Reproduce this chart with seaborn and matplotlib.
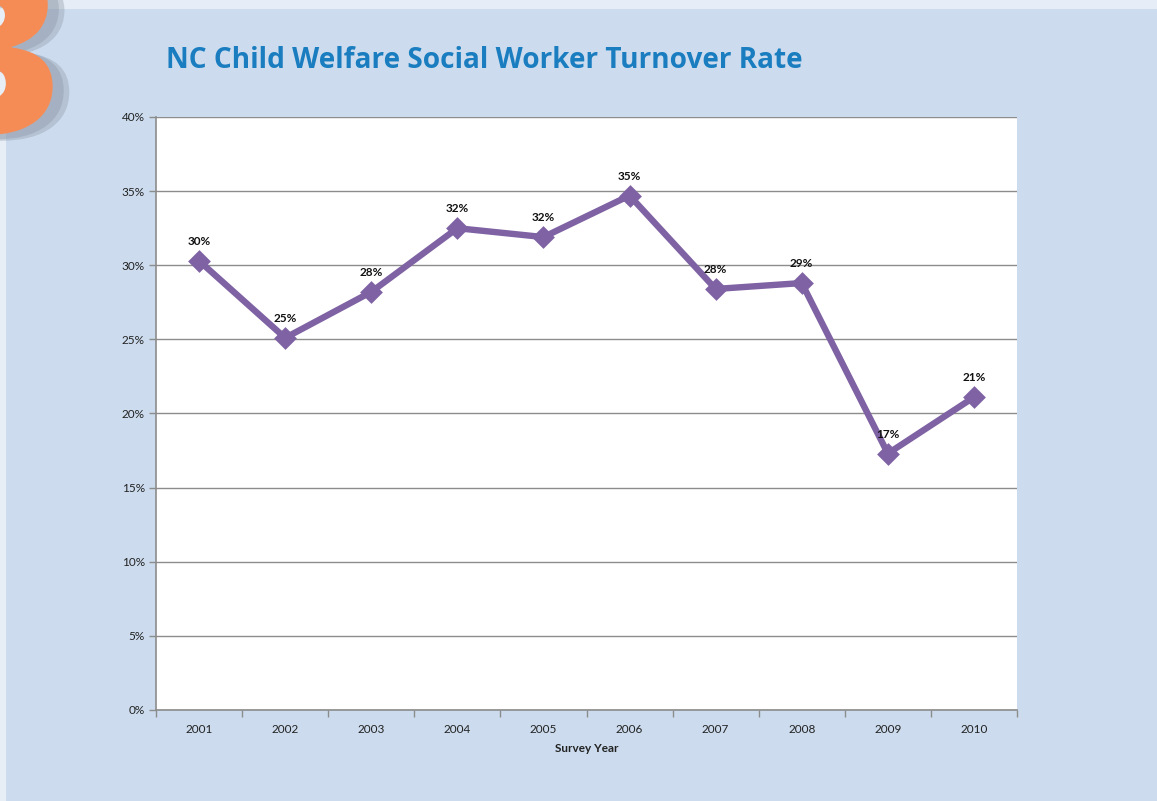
import matplotlib
matplotlib.use("Agg")
import matplotlib.pyplot as plt
import matplotlib.patheffects as pe
import seaborn as sns
import numpy as np
import pandas as pd
from matplotlib.patches import Rectangle
from matplotlib.ticker import FixedLocator

years = ["2001", "2002", "2003", "2004", "2005", "2006", "2007", "2008", "2009", "2010"]
rates = [30.3, 25.1, 28.2, 32.5, 31.9, 34.7, 28.4, 28.8, 17.3, 21.1]
labels = ["30%", "25%", "28%", "32%", "32%", "35%", "28%", "29%", "17%", "21%"]
yticks = [0, 5, 10, 15, 20, 25, 30, 35, 40]
title = "NC Child Welfare Social Worker Turnover Rate"
xlabel = "Survey Year"

sns.set_theme(style="white")
plt.rcParams['font.family'] = ['Lato', 'DejaVu Sans']

BG = "#CCDCEE"
PURPLE = "#7F62A3"
GRID = "#8C8C8C"

fig = plt.figure(figsize=(11.57, 8.01), dpi=100)
fig.patch.set_facecolor(BG)

# top light strip
fig.patches.append(Rectangle((0, 1 - 9/801), 1, 9/801, transform=fig.transFigure,
                             facecolor="#E6EDF6", edgecolor="none", zorder=0))
fig.patches.append(Rectangle((0, 0), 6/1157, 1, transform=fig.transFigure,
                             facecolor="#E8EEF6", edgecolor="none", zorder=0))

# decorative "3" with a soft grey shadow
fig.text(62/1157, 1 - 133/801, "3", fontsize=165, fontweight="heavy", color="#F58C55",
         family=["Open Sans", "DejaVu Sans"], ha="right", va="baseline", zorder=2,
         path_effects=[pe.SimplePatchShadow(offset=(12, -4), shadow_rgbFace="#8994A3", alpha=0.35),
                       pe.SimplePatchShadow(offset=(8, -3), shadow_rgbFace="#8994A3", alpha=0.35),
                       pe.Normal()])

fig.text(166/1157, 1 - 60/801, title, fontsize=20.2, fontweight="bold", color="#1A7DC0",
         family=["Open Sans", "DejaVu Sans"], ha="left", va="center")

ax = fig.add_axes([156/1157, 91/801, 861/1157, 593/801])
ax.set_facecolor("white")

df = pd.DataFrame({"year": years, "rate": rates})
sns.pointplot(data=df, x="year", y="rate", color=PURPLE, markers="D", linestyles="-",
              ax=ax, errorbar=None, markersize=8, linewidth=4.6)

ax.set_xlim(-0.5, len(years) - 0.5)
ax.set_ylim(0, 40)
ax.set_yticks(yticks)
ax.set_yticklabels([f"{v}%" for v in yticks], fontsize=8.5, color="#222222")
ax.yaxis.grid(True, color=GRID, linewidth=1.0)
ax.set_axisbelow(True)
ax.tick_params(axis="y", length=5, width=1, color=GRID, direction="out", pad=3, left=True)

ax.set_xticks(range(len(years)))
ax.set_xticklabels(years, fontsize=8.5, color="#222222")
ax.tick_params(axis="x", which="major", length=0, pad=10)
ax.xaxis.set_minor_locator(FixedLocator(np.arange(-0.5, len(years), 1.0)))
ax.tick_params(axis="x", which="minor", length=5, width=1, color=GRID, direction="out", bottom=True)

for side in ["top", "right"]:
    ax.spines[side].set_visible(False)
for side in ["left", "bottom"]:
    ax.spines[side].set_color(GRID)
    ax.spines[side].set_linewidth(1.2)

ax.set_xlabel(xlabel, fontsize=8.5, fontweight="bold", color="#222222", labelpad=6)
ax.set_ylabel("")

for i, (v, lab) in enumerate(zip(rates, labels)):
    ax.annotate(lab, (i, v), xytext=(0, 10), textcoords="offset points", ha="center",
                va="bottom", fontsize=8.5, fontweight="bold", color="#111111")

fig.savefig("out.png", dpi=100, facecolor=BG)
